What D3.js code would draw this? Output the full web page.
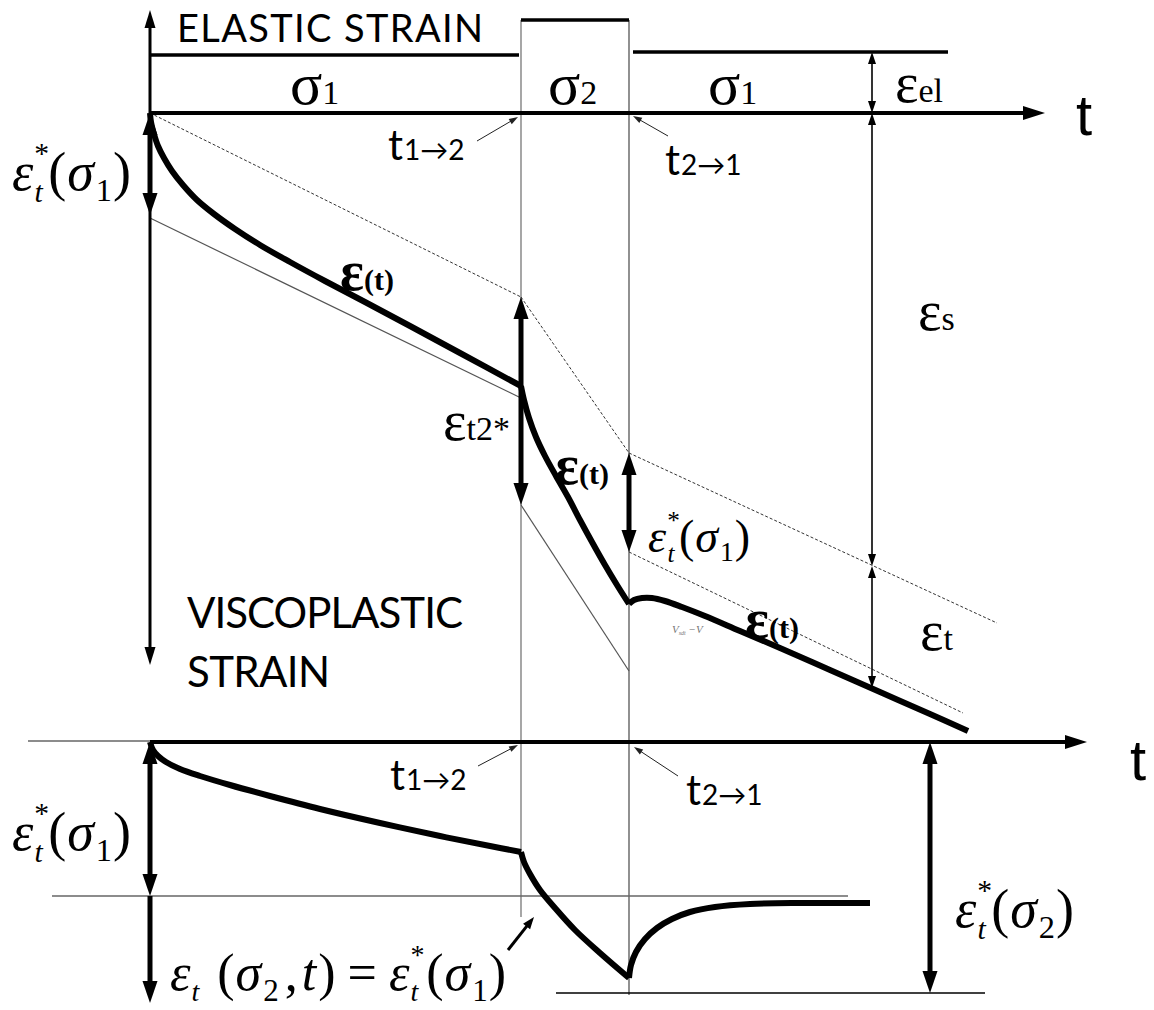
<!DOCTYPE html>
<html>
<head>
<meta charset="utf-8">
<script src="https://cdn.jsdelivr.net/npm/d3@7/dist/d3.min.js"></script>
<style>
  body { margin: 0; background: #fff; }
  svg { display: block; }
</style>
</head>
<body>
<script>
    // ---- DATA (diagram units: t = 0 at the strain axis, strain negative downward) ----
    var tSwitch = [371, 479];          // t1->2 , t2->1
    var tAxisEnd = 895, tAxisEndBottom = 937;

    // stress / elastic strain levels above the time axis
    var stressSteps = [
        {t0: 0,   t1: 369, level: 58},
        {t0: 371, t1: 479, level: 93},
        {t0: 483, t1: 798, level: 61}
    ];

    // upper panel: creep curve in the three load phases
    var creepPhase1 = [[0,0],[1,-9],[4,-21],[8,-33],[14,-45],[22,-58],[33,-72],[47,-87],[64,-101],
                       [85,-116],[110,-132],[140,-149],[175,-168],[215,-189],[260,-213],[310,-240],[371,-273]];
    var creepPhase2 = [[371,-273],[374,-287],[379,-305],[386,-324],[395,-343],[406,-363],[418,-384],
                       [430,-407],[442,-429],[455,-452],[467,-472],[479,-491]];
    var creepPhase3 = [[479,-491],[484,-487],[492,-485],[502,-485],[515,-488],[532,-494],[555,-503],
                       [590,-518],[630,-535],[680,-557],[730,-579],[780,-601],[818,-618]];

    // asymptotes (dashed) and offset lines (thin)
    var dashedLines = [
        [[0,0],[371,-184]],
        [[371,-184],[479,-340]],
        [[479,-340],[847,-510]],
        [[479,-439],[813,-600]]
    ];
    var thinLines = [
        [[0,-105],[371,-285]],
        [[371,-392],[479,-558]]
    ];

    // upper panel strain arrows: [t, from, to, kind]
    var upperArrows = [
        [0,   0,    -102, 'bold'],
        [371, -184, -392, 'bold'],
        [479, -340, -439, 'bold'],
        [722, 61,   0,    'thin'],
        [722, 0,    -453, 'thin'],
        [722, -453, -575, 'thin']
    ];

    // lower panel: transient strain
    var transPhase1 = [[0,0],[3,-8],[8,-14],[16,-20],[30,-27],[50,-34],[80,-43],[120,-54],[170,-67],
                       [230,-81],[290,-94],[340,-104],[371,-110]];
    var transPhase2 = [[371,-110],[374,-120],[380,-132],[390,-148],[405,-166],[425,-188],[450,-211],[479,-236]];
    var transPhase3 = [[479,-236],[481,-223],[486,-210],[495,-197],[507,-186],[522,-177],[540,-170],
                       [565,-165],[600,-162],[650,-161],[720,-161]];

    var lowerLevels = [
        {t0: -122, t1: 0,   level: 1},
        {t0: -98,  t1: 698, level: -154},
        {t0: 406,  t1: 835, level: -251}
    ];
    var lowerArrows = [
        [0,   0,    -154, 'bold'],
        [0,   -154, -261, 'boldDown'],
        [780, 0,    -251, 'bold']
    ];

    // ---- SCALES ----
    var W = 1154, H = 1010;
    var x = d3.scaleLinear().domain([0, 1000]).range([150, 1150]);
    var yTop = d3.scaleLinear().domain([0, -100]).range([113, 213]);
    var yBot = d3.scaleLinear().domain([0, -100]).range([742, 842]);

    var svg = d3.select('body').append('svg')
            .attr('width', W)
            .attr('height', H);

    var serif = '"Liberation Serif", "DejaVu Serif", serif';
    var sans = 'Lato, "Open Sans", sans-serif';

    function lineFor(ys) {
        return d3.line()
                .x(function (d) { return x(d[0]); })
                .y(function (d) { return ys(d[1]); })
                .curve(d3.curveCatmullRom.alpha(0.5));
    }

    // ARROW WITH POLYGON HEADS
    function arrow(p1, p2, o) {
        var dx = p2[0] - p1[0], dy = p2[1] - p1[1];
        var len = Math.sqrt(dx * dx + dy * dy);
        var ux = dx / len, uy = dy / len, nx = -uy, ny = ux;
        var a = [p1[0], p1[1]], b = [p2[0], p2[1]];
        if (o.start) { a = [p1[0] + ux * o.hl * 0.7, p1[1] + uy * o.hl * 0.7]; }
        if (o.end) { b = [p2[0] - ux * o.hl * 0.7, p2[1] - uy * o.hl * 0.7]; }
        svg.append('line')
                .attr('x1', a[0]).attr('y1', a[1])
                .attr('x2', b[0]).attr('y2', b[1])
                .attr('stroke', o.color || '#000')
                .attr('stroke-width', o.w);
        function head(tip, sx, sy) {
            var bx = tip[0] - sx * o.hl, by = tip[1] - sy * o.hl;
            svg.append('polygon')
                    .attr('points', [tip, [bx + nx * o.hw / 2, by + ny * o.hw / 2],
                        [bx - nx * o.hw / 2, by - ny * o.hw / 2]].map(function (p) { return p.join(','); }).join(' '))
                    .attr('fill', o.color || '#000');
        }
        if (o.end) head(p2, ux, uy);
        if (o.start) head(p1, -ux, -uy);
    }

    var styles = {
        bold:     {w: 5,   hl: 22, hw: 15, start: true, end: true},
        boldDown: {w: 5,   hl: 22, hw: 15, start: false, end: true},
        thin:     {w: 1.6, hl: 12, hw: 8,  start: true, end: true}
    };

    // VERTICAL SWITCH LINES (span both panels)
    svg.append('line').attr('x1', x(tSwitch[0])).attr('x2', x(tSwitch[0]))
            .attr('y1', yTop(93)).attr('y2', yBot(-175))
            .attr('stroke', '#777').attr('stroke-width', 1.3);
    svg.append('line').attr('x1', x(tSwitch[1])).attr('x2', x(tSwitch[1]))
            .attr('y1', yTop(93)).attr('y2', yBot(-253))
            .attr('stroke', '#555').attr('stroke-width', 1.3);

    // STRESS LEVELS
    svg.selectAll('.stress').data(stressSteps).enter().append('line')
            .attr('class', 'stress')
            .attr('x1', function (d) { return x(d.t0); })
            .attr('x2', function (d) { return x(d.t1); })
            .attr('y1', function (d) { return yTop(d.level); })
            .attr('y2', function (d) { return yTop(d.level); })
            .attr('stroke', '#000').attr('stroke-width', 3.5);

    // ASYMPTOTES
    dashedLines.forEach(function (seg) {
        svg.append('path').attr('d', d3.line().x(function (d) { return x(d[0]); })
                .y(function (d) { return yTop(d[1]); })(seg))
                .attr('stroke', '#333').attr('stroke-width', 1)
                .attr('stroke-dasharray', '3,2').attr('fill', 'none');
    });
    thinLines.forEach(function (seg) {
        svg.append('path').attr('d', d3.line().x(function (d) { return x(d[0]); })
                .y(function (d) { return yTop(d[1]); })(seg))
                .attr('stroke', '#555').attr('stroke-width', 1.2).attr('fill', 'none');
    });

    // AXES
    arrow([x(0), yTop(0)], [x(tAxisEnd), yTop(0)], {w: 4, hl: 22, hw: 14, end: true});
    arrow([x(0), yTop(103)], [x(0), yTop(-552)], {w: 3, hl: 18, hw: 11, start: true, end: true});

    // CREEP CURVES
    [creepPhase1, creepPhase2, creepPhase3].forEach(function (c) {
        svg.append('path').attr('d', lineFor(yTop)(c))
                .attr('stroke', '#000').attr('stroke-width', 6)
                .attr('fill', 'none').attr('stroke-linejoin', 'round');
    });

    upperArrows.forEach(function (a) {
        arrow([x(a[0]), yTop(a[1])], [x(a[0]), yTop(a[2])], styles[a[3]]);
    });

    // LOWER PANEL
    svg.selectAll('.lvl').data(lowerLevels).enter().append('line')
            .attr('class', 'lvl')
            .attr('x1', function (d) { return x(d.t0); })
            .attr('x2', function (d) { return x(d.t1); })
            .attr('y1', function (d) { return yBot(d.level); })
            .attr('y2', function (d) { return yBot(d.level); })
            .attr('stroke', function (d, i) { return i == 2 ? '#000' : '#666'; })
            .attr('stroke-width', function (d, i) { return i == 2 ? 1.6 : 1.3; });

    arrow([x(0), yBot(0)], [x(tAxisEndBottom), yBot(0)], {w: 4, hl: 22, hw: 14, end: true});

    [transPhase1, transPhase2, transPhase3].forEach(function (c) {
        svg.append('path').attr('d', lineFor(yBot)(c))
                .attr('stroke', '#000').attr('stroke-width', 6)
                .attr('fill', 'none').attr('stroke-linejoin', 'round');
    });

    lowerArrows.forEach(function (a) {
        arrow([x(a[0]), yBot(a[1])], [x(a[0]), yBot(a[2])], styles[a[3]]);
    });

    // POINTER ARROWS
    var ptr = {w: 1, hl: 9, hw: 6, end: true, color: '#222'};
    arrow([477, 141], [518, 117], ptr);
    arrow([668, 136], [633, 116], ptr);
    arrow([478, 766], [518, 745], ptr);
    arrow([678, 776], [634, 747], ptr);
    arrow([508, 950], [534, 917], {w: 3, hl: 12, hw: 9, end: true});

    // ---- TEXT ----
    function txt(px, py, parts, family, anchor) {
        var t = svg.append('text').attr('x', px).attr('y', py)
                .attr('font-family', family || serif)
                .attr('text-anchor', anchor || 'start')
                .attr('fill', '#000');
        parts.forEach(function (p) {
            var s = t.append('tspan').text(p.t)
                    .attr('font-size', p.s);
            if (p.dx) s.attr('dx', p.dx);
            if (p.dy) s.attr('dy', p.dy);
            if (p.i) s.attr('font-style', 'italic');
            if (p.b) s.attr('font-weight', 'bold');
        });
        return t;
    }

    txt(177, 42, [{t: 'ELASTIC STRAIN', s: 38}], sans).attr('textLength', 306);
    txt(187, 628, [{t: 'VISCOPLASTIC', s: 42}], sans).attr('textLength', 276);
    txt(187, 687, [{t: 'STRAIN', s: 42}], sans).attr('textLength', 143);

    txt(1076, 135, [{t: 't', s: 58}], '"Liberation Sans", Arial, sans-serif');
    txt(1130, 780, [{t: 't', s: 58}], '"Liberation Sans", Arial, sans-serif');

    function tLabel(px, py, sub) {
        txt(px, py, [{t: 't', s: 42}, {t: sub, s: 28, dx: 1}], sans);
    }
    tLabel(388, 160, '1\u21922');
    tLabel(665, 175, '2\u21921');
    tLabel(390, 790, '1\u21922');
    tLabel(686, 805, '2\u21921');

    // stress labels
    function sig(px, n) { txt(px, 104, [{t: '\u03c3', s: 60}, {t: n, s: 34}]); }
    sig(290, '1');
    sig(548, '2');
    sig(708, '1');

    function eps(px, py, sub) { txt(px, py, [{t: '\u03b5', s: 56}, {t: sub, s: 34}]); }
    eps(895, 102, 'el');
    eps(918, 330, 's');
    eps(920, 650, 't');
    eps(443, 440, 't2*');

    function epsBold(px, py) { txt(px, py, [{t: '\u03b5', s: 56, b: true}, {t: '(t)', s: 30, b: true}]); }
    epsBold(340, 290);
    epsBold(555, 484);
    epsBold(745, 638);

    // eps_t^*(sigma_n)
    function epsStar(px, py, n, s) {
        txt(px, py, [
            {t: '\u03b5', s: s, i: true},
            {t: '*', s: s * 0.55, dx: 1, dy: -s * 0.5},
            {t: 't', s: s * 0.55, i: true, dx: -s * 0.27, dy: s * 0.72},
            {t: '(', s: s, dx: s * 0.1, dy: -s * 0.22},
            {t: '\u03c3', s: s, i: true, dx: 1},
            {t: n, s: s * 0.6, dx: 2, dy: s * 0.2},
            {t: ')', s: s, dx: 1, dy: -s * 0.2}
        ]);
    }
    epsStar(12, 190, '1', 54);
    epsStar(648, 552, '1', 46);
    epsStar(12, 850, '1', 54);
    epsStar(955, 927, '2', 54);

    // eps_t(sigma2, t) = eps_t^*(sigma1)
    txt(170, 990, [
        {t: '\u03b5', s: 52, i: true},
        {t: 't', s: 28, i: true, dx: 1, dy: 11},
        {t: '(', s: 52, dx: 18, dy: -11},
        {t: '\u03c3', s: 52, i: true, dx: 1},
        {t: '2', s: 31, dx: 2, dy: 11},
        {t: ',', s: 52, dx: 6, dy: -11},
        {t: 't', s: 52, i: true, dx: 4},
        {t: ')', s: 52, dx: 2},
        {t: '=', s: 52, dx: 12},
        {t: '\u03b5', s: 52, i: true, dx: 12},
        {t: '*', s: 28, dx: 1, dy: -26},
        {t: 't', s: 28, i: true, dx: -14, dy: 37},
        {t: '(', s: 52, dx: 8, dy: -11},
        {t: '\u03c3', s: 52, i: true, dx: 1},
        {t: '1', s: 31, dx: 2, dy: 11},
        {t: ')', s: 52, dx: 1, dy: -11}
    ]);

    // tiny annotation near the third phase
    var v = svg.append('text').attr('x', 672).attr('y', 633)
            .attr('font-family', serif).attr('font-style', 'italic')
            .attr('fill', '#777').attr('font-size', 11);
    v.append('tspan').text('V');
    v.append('tspan').text('sdt').attr('font-size', 6).attr('dy', 2);
    v.append('tspan').text(' \u2212V').attr('dy', -2);
</script>
</body>
</html>
